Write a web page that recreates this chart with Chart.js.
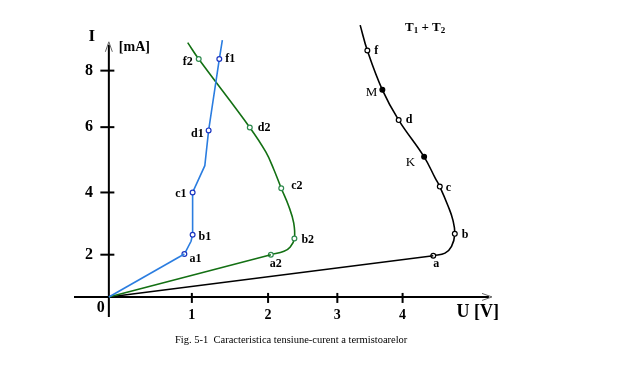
<!DOCTYPE html>
<html>
<head>
<meta charset="utf-8">
<script src="https://cdn.jsdelivr.net/npm/chart.js@4.4.1/dist/chart.umd.min.js"></script>
<style>
  html, body { margin: 0; padding: 0; background: #fff; }
</style>
</head>
<body>
<canvas id="chart" width="624" height="370"></canvas>
<script>
// U [V] and I [mA], point names as printed
const t1U = [0, 0.91, 0.99, 1.01, 1.01, 1.17, 1.22, 1.36, 1.40];
const t1I = [0, 2.02, 2.43, 2.64, 4.00, 4.82, 5.90, 8.41, 9.08];
const t1Names = ['', 'a1', '', 'b1', 'c1', '', 'd1', 'f1', ''];

const t2U = [0, 2.04, 2.23, 2.32, 2.38, 2.37, 2.30, 2.19, 2.08, 1.97, 1.76, 1.09, 0.95];
const t2I = [0, 2.00, 2.11, 2.25, 2.52, 3.02, 3.55, 4.13, 4.72, 5.24, 5.99, 8.41, 8.99];
const t2Names = ['', 'a2', '', '', 'b2', '', '', 'c2', '', '', 'd2', 'f2', ''];

const t12U = [0, 4.47, 4.65, 4.75, 4.80, 4.77, 4.70, 4.57, 4.50, 4.33, 3.94, 3.69, 3.46, 3.35];
const t12I = [0, 1.95, 2.05, 2.27, 2.67, 3.12, 3.55, 4.18, 4.44, 5.09, 6.25, 7.32, 8.71, 9.61];
const t12Names = ['', 'a', '', '', 'b', '', '', 'c', '', 'K', 'd', 'M', 'f', ''];
const solidPoints = ['K', 'M'];

const uTicks = [1, 2, 3, 4];
const iTicks = [2, 4, 6, 8];

// the hand-drawn axes are not evenly spaced: spacing of the printed ticks
const warpKnots = {
  x: { values: [0, 1, 2, 3, 4], pixels: [0, 83.3, 159.8, 229.3, 294.8] },
  y: { values: [0, 2, 4, 6, 8], pixels: [0, 42.3, 104.6, 170, 226.6] }
};

function seg(k, v, i) {
  return k.pixels[i] + (v - k.values[i]) * (k.pixels[i + 1] - k.pixels[i]) / (k.values[i + 1] - k.values[i]);
}
function warp(k, v) {
  const n = k.values.length;
  let i = 0;
  if (v >= k.values[n - 1]) i = n - 2;
  else while (i < n - 2 && v > k.values[i + 1]) i++;
  return seg(k, v, i);
}
function unwarp(k, w) {
  const n = k.pixels.length;
  let i = 0;
  if (w >= k.pixels[n - 1]) i = n - 2;
  else while (i < n - 2 && w > k.pixels[i + 1]) i++;
  return k.values[i] + (w - k.pixels[i]) * (k.values[i + 1] - k.values[i]) / (k.pixels[i + 1] - k.pixels[i]);
}

class WarpScale extends Chart.LinearScale {
  getPixelForValue(value) {
    if (value === null || value === undefined || isNaN(value)) return NaN;
    const k = warpKnots[this.id];
    const a = warp(k, this.min), b = warp(k, this.max);
    return this.getPixelForDecimal((warp(k, value) - a) / (b - a));
  }
  getValueForPixel(pixel) {
    const k = warpKnots[this.id];
    const a = warp(k, this.min), b = warp(k, this.max);
    return unwarp(k, a + this.getDecimalForPixel(pixel) * (b - a));
  }
}
WarpScale.id = 'warp';
WarpScale.defaults = Chart.LinearScale.defaults;
Chart.register(WarpScale);

function pts(us, is, from, to) {
  const out = [];
  for (let k = from; k < to; k++) out.push({ x: us[k], y: is[k] });
  return out;
}

const serif = 'Liberation Serif, Times New Roman, serif';

function curve(label, us, is, names, color, markColor, tension) {
  const ramp = {
    label: label,
    data: pts(us, is, 0, 2),
    borderColor: color,
    borderWidth: 1.6,
    tension: 0,
    pointRadius: 0
  };
  const names2 = names.slice(1);
  const body = {
    label: label,
    data: pts(us, is, 1, us.length),
    names: names2,
    borderColor: color,
    borderWidth: 1.6,
    tension: tension,
    pointRadius: ctx => names2[ctx.dataIndex] ? 2.4 : 0,
    pointBorderWidth: 1.2,
    pointBorderColor: markColor,
    pointBackgroundColor: ctx => solidPoints.includes(names2[ctx.dataIndex]) ? '#000' : '#fff'
  };
  return [ramp, body];
}

const labelStyle = {
  a1: [5, 5, 'left'], b1: [6, 2, 'left'], c1: [-6, 1, 'right'], d1: [-5, 3, 'right'], f1: [6, 0, 'left'],
  a2: [5, 9, 'center'], b2: [7, 1, 'left'], c2: [10, -2, 'left'], d2: [8, 0, 'left'], f2: [-6, 3, 'right'],
  a: [3, 8, 'center'], b: [7, 1, 'left'], c: [6, 1, 'left'], d: [7, 0, 'left'], f: [7, 0, 'left'],
  K: [-9, 6, 'right'], M: [-5, 3, 'right']
};

function line(ctx, x1, y1, x2, y2) {
  ctx.beginPath(); ctx.moveTo(x1, y1); ctx.lineTo(x2, y2); ctx.stroke();
}

const decor = {
  id: 'decor',
  beforeDatasetsDraw(chart) {
    const { ctx, chartArea } = chart;
    const x = chart.scales.x, y = chart.scales.y;
    const ox = x.getPixelForValue(0), oy = y.getPixelForValue(0);
    const yTop = y.getPixelForValue(9.02);
    ctx.save();
    ctx.strokeStyle = '#000';
    ctx.lineWidth = 2;
    line(ctx, chartArea.left, oy, chartArea.right - 3, oy);
    line(ctx, ox, chartArea.bottom, ox, yTop + 3);
    uTicks.forEach(v => { const px = x.getPixelForValue(v); line(ctx, px, oy - 4, px, oy + 6); });
    iTicks.forEach(v => { const py = y.getPixelForValue(v); line(ctx, ox - 8.5, py, ox + 5.5, py); });
    // open arrow heads
    ctx.lineWidth = 1;
    ctx.strokeStyle = '#666';
    ctx.beginPath();
    ctx.moveTo(chartArea.right - 10, oy - 3.5); ctx.lineTo(chartArea.right, oy); ctx.lineTo(chartArea.right - 10, oy + 3.5);
    ctx.moveTo(ox - 3.5, yTop + 10); ctx.lineTo(ox, yTop); ctx.lineTo(ox + 3.5, yTop + 10);
    ctx.stroke();
    ctx.restore();
  },
  afterDatasetsDraw(chart) {
    const { ctx } = chart;
    const x = chart.scales.x, y = chart.scales.y;
    const ox = x.getPixelForValue(0), oy = y.getPixelForValue(0);
    ctx.save();
    ctx.fillStyle = '#000';
    ctx.textBaseline = 'middle';

    // point names
    chart.data.datasets.forEach((ds, i) => {
      if (!ds.names) return;
      const meta = chart.getDatasetMeta(i);
      meta.data.forEach((el, j) => {
        const name = ds.names[j];
        if (!name) return;
        const st = labelStyle[name];
        ctx.textAlign = st[2];
        ctx.font = solidPoints.includes(name) ? '13px ' + serif : 'bold 12px ' + serif;
        ctx.fillText(name, el.x + st[0], el.y + st[1]);
      });
    });

    // axis names and origin
    ctx.textAlign = 'center';
    ctx.font = 'bold 16px ' + serif;
    ctx.fillText('0', ox - 8, oy + 11);
    ctx.font = 'bold 17px ' + serif;
    ctx.fillText('I', ox - 17, 37);
    ctx.textAlign = 'left';
    ctx.font = 'bold 14px ' + serif;
    ctx.fillText('[mA]', ox + 10, 47);
    ctx.font = 'bold 18px ' + serif;
    ctx.fillText('U [V]', x.getPixelForValue(4) + 54, oy + 15);

    // T1 + T2
    let tx = 405;
    const ty = 28;
    const parts = [['T', 0], ['1', 1], [' + T', 0], ['2', 1]];
    parts.forEach(p => {
      ctx.font = p[1] ? 'bold 9px ' + serif : 'bold 13px ' + serif;
      ctx.fillText(p[0], tx, ty + (p[1] ? 3 : 0));
      tx += ctx.measureText(p[0]).width;
    });

    // caption
    ctx.font = '10.5px ' + serif;
    ctx.fillText('Fig. 5-1  Caracteristica tensiune-curent a termistoarelor', 175, 340);
    ctx.restore();
  }
};

const datasets = [].concat(
  curve('T1', t1U, t1I, t1Names, '#2b7de0', '#1b35c0', 0),
  curve('T2', t2U, t2I, t2Names, '#137013', '#2f8a4f', 0.4),
  curve('T1 + T2', t12U, t12I, t12Names, '#000', '#000', 0.4)
);

const tickFont = size => ({ family: serif, size: size, weight: 'bold' });

new Chart(document.getElementById('chart'), {
  type: 'line',
  data: { datasets: datasets },
  options: {
    responsive: false,
    animation: false,
    devicePixelRatio: 1,
    events: [],
    layout: { autoPadding: false, padding: { left: 52, top: 14, right: 132, bottom: 53 } },
    plugins: { legend: { display: false }, tooltip: { enabled: false } },
    scales: {
      x: {
        type: 'warp',
        min: -0.42,
        max: 5.37,
        position: { y: 0 },
        grid: { display: false, drawTicks: false },
        border: { display: false },
        afterBuildTicks: s => { s.ticks = uTicks.map(v => ({ value: v })); },
        ticks: { font: tickFont(14), color: '#000', padding: 10, maxRotation: 0, autoSkip: false }
      },
      y: {
        type: 'warp',
        min: -0.95,
        max: 9.77,
        position: 'left',
        grid: { display: false, drawTicks: false },
        border: { display: false },
        afterBuildTicks: s => { s.ticks = iTicks.map(v => ({ value: v })); },
        ticks: { font: tickFont(16), color: '#000', mirror: true, padding: 11, autoSkip: false }
      }
    }
  },
  plugins: [decor]
});
</script>
</body>
</html>
